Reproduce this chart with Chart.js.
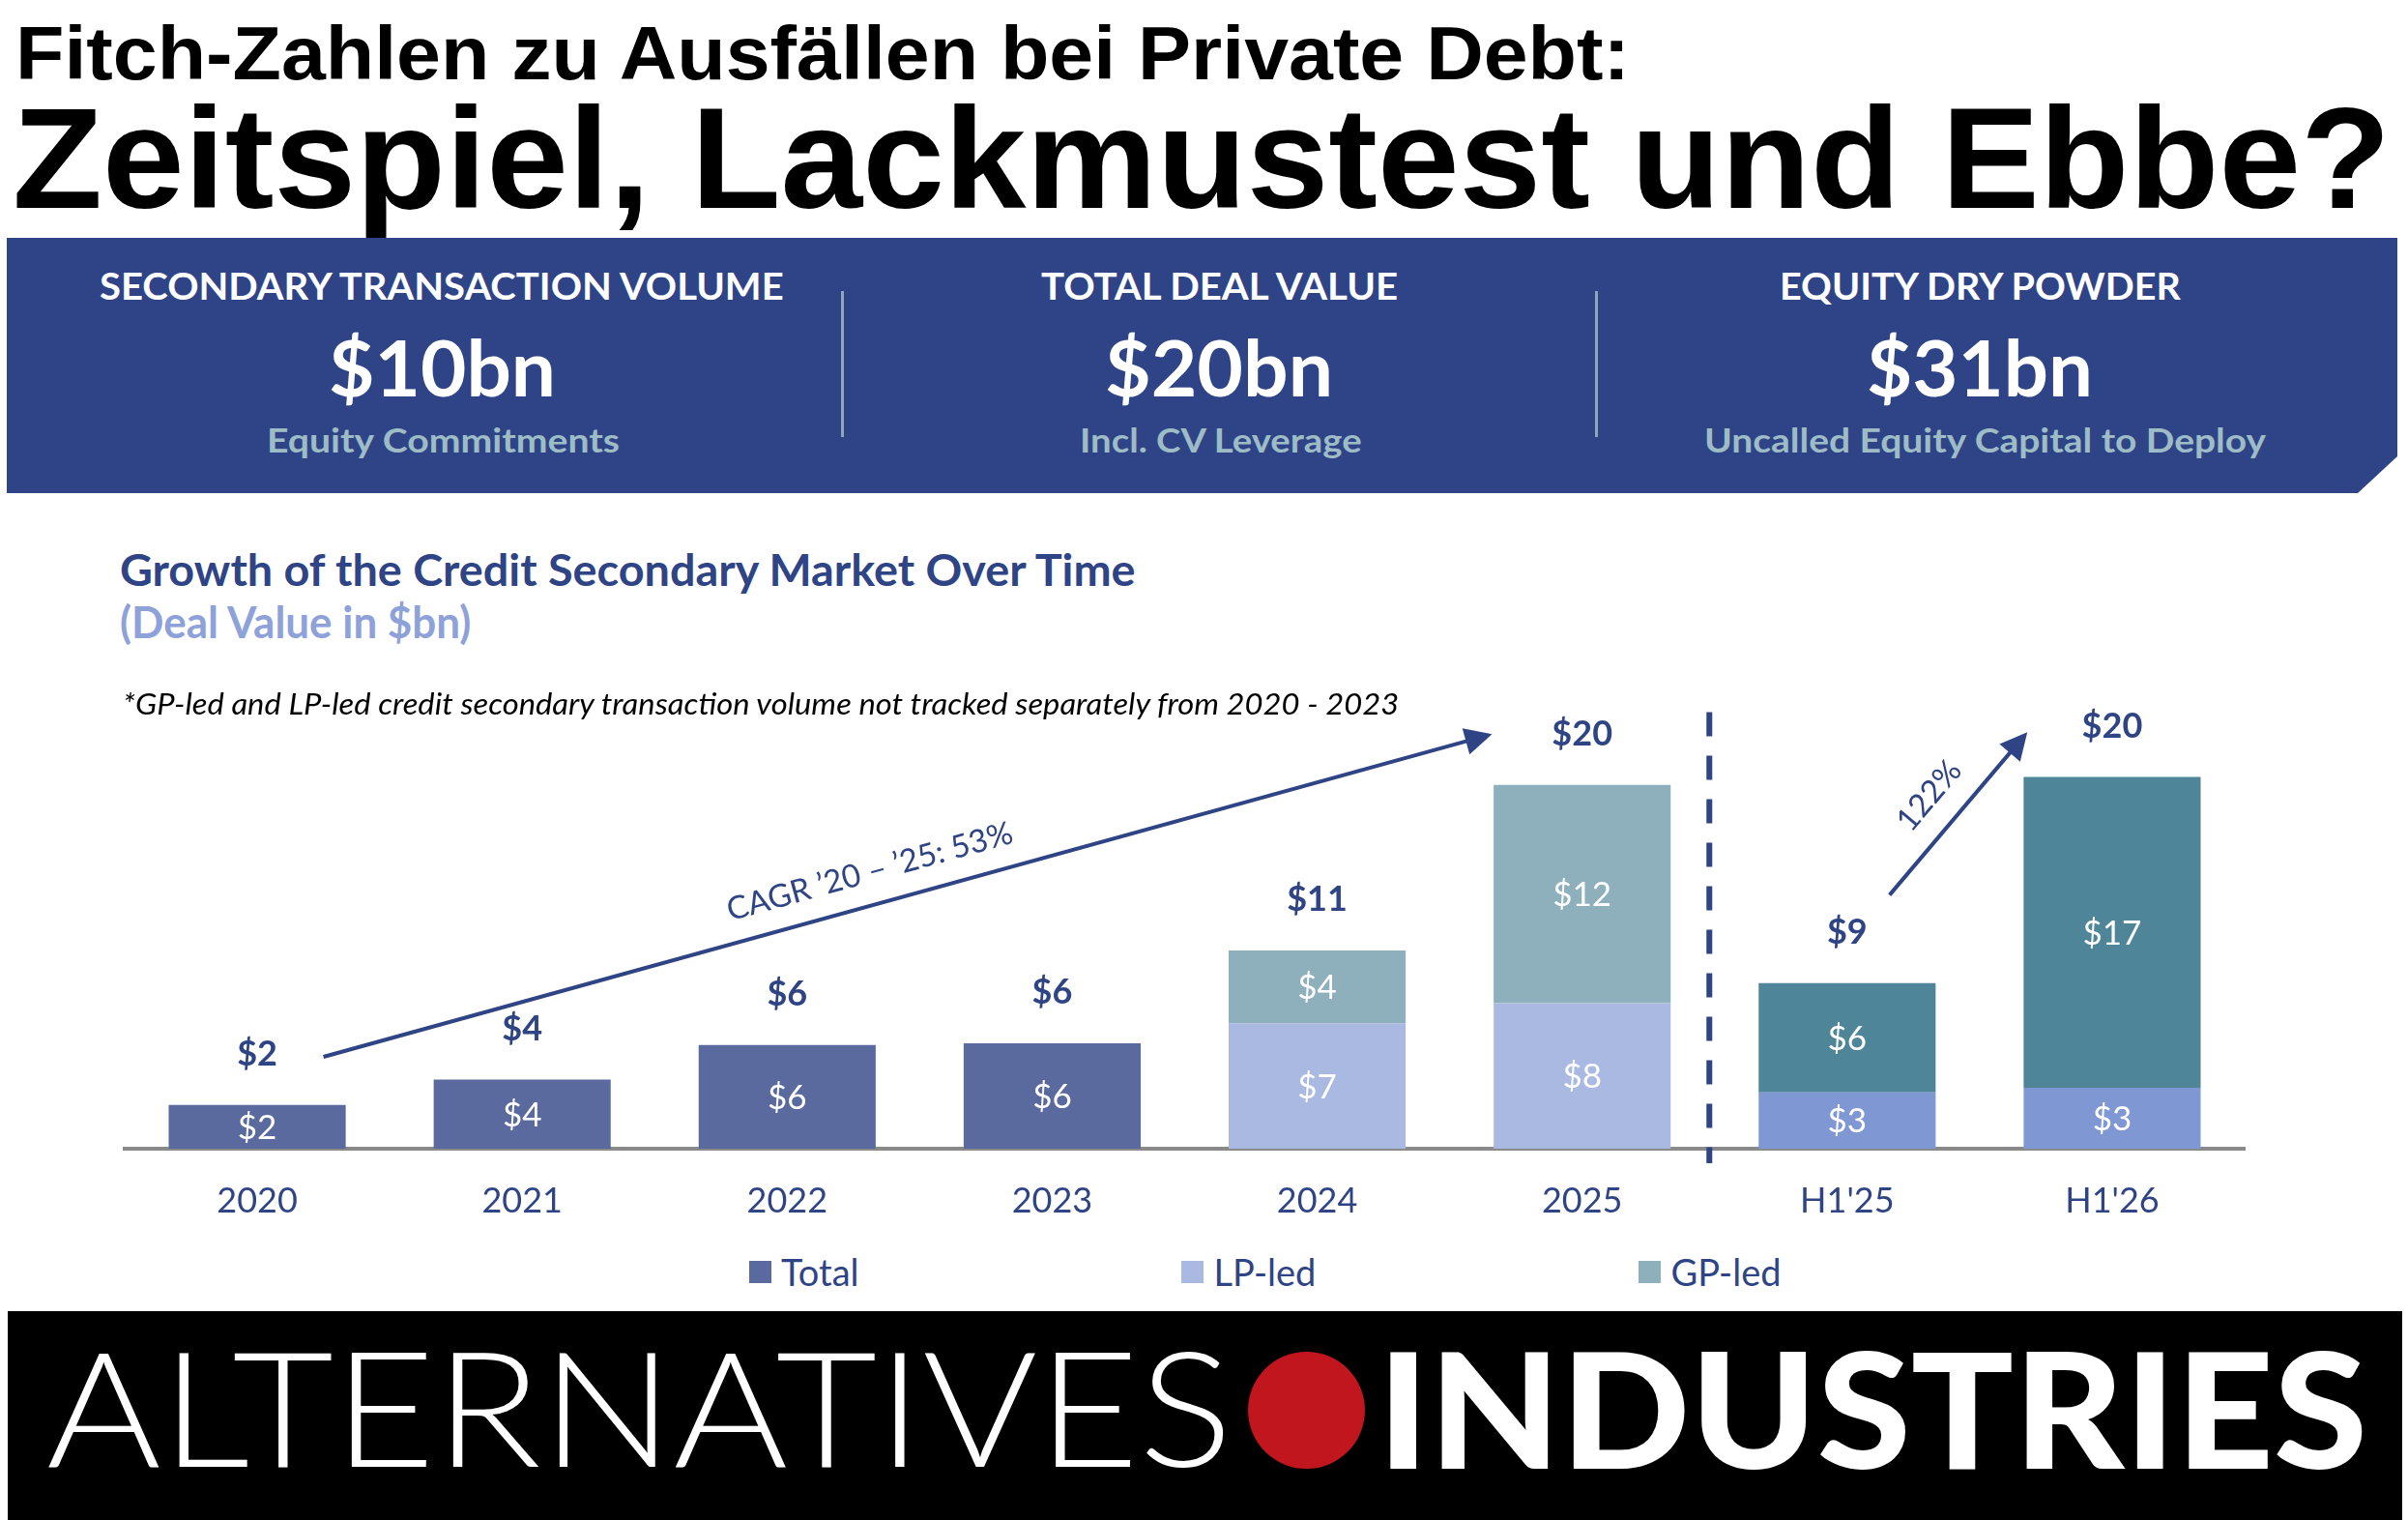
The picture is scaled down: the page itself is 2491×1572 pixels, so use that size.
<!DOCTYPE html>
<html>
<head>
<meta charset="utf-8">
<script src="https://cdn.jsdelivr.net/npm/chart.js@4.4.1/dist/chart.umd.min.js"></script>
<style>
    html, body {
        margin: 0;
        width: 2491px;
        height: 1572px;
        overflow: hidden;
        background: #ffffff;
    }
    .txt {
        position: absolute;
        white-space: nowrap;
        line-height: 1;
        transform-origin: 0 0;
    }
    .banner {
        position: absolute;
        left: 7px;
        top: 246px;
        width: 2473px;
        height: 264px;
        background: #2f4487;
        clip-path: polygon(0 0, 100% 0, 100% 226px, 2432px 100%, 0 100%);
    }
    .sep {
        position: absolute;
        top: 301px;
        width: 3px;
        height: 151px;
        background: #8ea6bd;
    }
    .footer {
        position: absolute;
        left: 8px;
        top: 1356px;
        width: 2477px;
        height: 216px;
        background: #000000;
    }
    .dot {
        position: absolute;
        left: 1291px;
        top: 1398px;
        width: 121px;
        height: 121px;
        border-radius: 50%;
        background: #c1161e;
    }
    #chartCanvas {
        position: absolute;
        left: 0;
        top: 699px;
    }
    .legend {
        position: absolute;
        left: 775px;
        top: 1296px;
        height: 38px;
        display: flex;
        align-items: center;
        gap: 334px;
        font: 400 38px Lato, sans-serif;
        color: #2f4485;
        line-height: 1;
    }
    .legend-item {
        display: flex;
        align-items: center;
    }
    .legend-box {
        width: 23px;
        height: 23px;
        margin-right: 10px;
    }
</style>
</head>
<body>
<div class="banner"></div>
<div class="sep" style="left:870px"></div>
<div class="sep" style="left:1650px"></div>
<div class="footer"></div>
<div class="dot"></div>
<canvas id="chartCanvas" width="2491" height="589"></canvas>
<div class="legend" id="legend"></div>

<script>
// chart data
const categories = ["2020", "2021", "2022", "2023", "2024", "2025", "H1'25", "H1'26"];
const totalValues = [2.4, 3.8, 5.7, 5.8, null, null, null, null];
const lpLedValues = [null, null, null, null, 6.9, 8.0, 3.1, 3.35];
const gpLedValues = [null, null, null, null, 4.0, 12.0, 6.0, 17.1];
const seriesNames = ["Total", "LP-led", "GP-led"];

// annotations, in [category index, value] units
const cagrArrow = [[0.25, 5.05], [4.66, 22.8]];
const halfYearArrow = [[6.16, 13.95], [6.68, 22.9]];
const splitAt = 5.48;
const cagrText = "CAGR \u201920 \u2013 \u201925: 53%";
const halfYearText = "122%";

const NAVY = "#2f4485";
const TOTAL_COLOR = "#5b6a9e";
const LP_COLOR = "#a9b9e1";
const GP_COLOR = "#8eafbc";
const H1_LP_COLOR = "#7f98d4";
const H1_GP_COLOR = "#4f8598";

const isHalfYear = categories.map(c => c.startsWith("H1"));

// ---------- plain html texts ----------
const measureCtx = document.createElement("canvas").getContext("2d");

function addText(spec) {
    const font = `${spec.style || "normal"} ${spec.weight || 400} ${spec.size}px ${spec.family}`;
    measureCtx.font = font;
    const m = measureCtx.measureText(spec.text);
    const h = measureCtx.measureText("H");
    // line-height is 1, so the baseline sits half the leftover below the middle
    const baseline = spec.size / 2 + (m.fontBoundingBoxAscent - m.fontBoundingBoxDescent) / 2;
    const capMid = baseline - h.actualBoundingBoxAscent / 2;
    const left = spec.cx !== undefined ? spec.cx - spec.w / 2 : spec.x;

    const el = document.createElement("div");
    el.className = "txt";
    el.textContent = spec.text;
    el.style.font = font;
    el.style.lineHeight = "1";
    el.style.color = spec.color;
    el.style.left = left + "px";
    el.style.top = (spec.cy - capMid) + "px";
    el.style.transform = `scaleX(${spec.w / m.width})`;
    document.body.appendChild(el);
}

const SANS = "'Liberation Sans', Arial, sans-serif";
const LATO = "Lato, 'Open Sans', sans-serif";

addText({ text: "Fitch-Zahlen zu Ausfällen bei Private Debt:", family: SANS, weight: 700, size: 77, color: "#000", x: 16, cy: 55.5, w: 1673 });
addText({ text: "Zeitspiel, Lackmustest und Ebbe?", family: SANS, weight: 700, size: 148, color: "#000", x: 13, cy: 164, w: 2460 });

const kpis = [
    { head: "SECONDARY TRANSACTION VOLUME", value: "$10bn", sub: "Equity Commitments", cx: 459, hw: 712, vw: 235, sw: 366 },
    { head: "TOTAL DEAL VALUE", value: "$20bn", sub: "Incl. CV Leverage", cx: 1263, hw: 373, vw: 236, sw: 293 },
    { head: "EQUITY DRY POWDER", value: "$31bn", sub: "Uncalled Equity Capital to Deploy", cx: 2050, hw: 418, vw: 234, sw: 582 }
];
kpis.forEach(k => {
    addText({ text: k.head, family: LATO, weight: 700, size: 39, color: "#ffffff", cx: k.cx, cy: 296, w: k.hw });
    addText({ text: k.value, family: LATO, weight: 700, size: 81, color: "#ffffff", cx: k.cx - 2, cy: 381, w: k.vw });
    addText({ text: k.sub, family: LATO, weight: 700, size: 35, color: "#9dbcc6", cx: k.cx + (k.sw > 500 ? 4 : 0), cy: 456, w: k.sw });
});

addText({ text: "Growth of the Credit Secondary Market Over Time", family: LATO, weight: 700, size: 46, color: NAVY, x: 124, cy: 589.5, w: 1055 });
addText({ text: "(Deal Value in $bn)", family: LATO, weight: 700, size: 45, color: "#8ea1d9", x: 124, cy: 644, w: 365 });
addText({ text: "*GP-led and LP-led credit secondary transaction volume not tracked separately from 2020 - 2023", family: LATO, style: "italic", weight: 400, size: 30, color: "#000", x: 127, cy: 728, w: 1323 });

addText({ text: "ALTERNATIVES", family: LATO, weight: 300, size: 165, color: "#ffffff", x: 48, cy: 1459, w: 1227 });
addText({ text: "INDUSTRIES", family: LATO, weight: 900, size: 165, color: "#ffffff", x: 1425, cy: 1459, w: 1024 });

// ---------- chart ----------
function money(v) {
    return "$" + Math.round(v);
}

function drawArrow(ctx, x, y, pts, label, offset) {
    const x0 = x.getPixelForValue(pts[0][0]), y0 = y.getPixelForValue(pts[0][1]);
    const x1 = x.getPixelForValue(pts[1][0]), y1 = y.getPixelForValue(pts[1][1]);
    const ang = Math.atan2(y1 - y0, x1 - x0);
    const len = Math.hypot(x1 - x0, y1 - y0);
    const head = 28;

    ctx.save();
    ctx.translate(x0, y0);
    ctx.rotate(ang);
    ctx.strokeStyle = NAVY;
    ctx.fillStyle = NAVY;
    ctx.lineWidth = 4;
    ctx.beginPath();
    ctx.moveTo(0, 0);
    ctx.lineTo(len - head + 2, 0);
    ctx.stroke();
    ctx.beginPath();
    ctx.moveTo(len, 0);
    ctx.lineTo(len - head, -14);
    ctx.lineTo(len - head, 14);
    ctx.closePath();
    ctx.fill();

    ctx.font = "400 33px Lato, sans-serif";
    ctx.textAlign = "center";
    ctx.textBaseline = "middle";
    ctx.fillText(label, len * 0.475, -offset);
    ctx.restore();
}

const labelsPlugin = {
    id: "barLabels",
    afterDatasetsDraw(chart) {
        const { ctx, scales: { x, y } } = chart;
        ctx.save();

        // segment values
        ctx.font = "400 35px Lato, sans-serif";
        ctx.fillStyle = "#ffffff";
        ctx.textAlign = "center";
        ctx.textBaseline = "alphabetic";
        chart.data.datasets.forEach((ds, i) => {
            chart.getDatasetMeta(i).data.forEach((bar, j) => {
                const v = ds.data[j];
                if (v === null) return;
                const mid = (bar.y + bar.base) / 2;
                ctx.fillText(money(v), bar.x, mid + 35 * 0.358);
            });
        });

        // totals above bars
        ctx.font = "700 36px Lato, sans-serif";
        ctx.fillStyle = NAVY;
        categories.forEach((c, j) => {
            const sum = chart.data.datasets.reduce((s, ds) => s + (ds.data[j] || 0), 0);
            const top = y.getPixelForValue(sum);
            ctx.fillText(money(sum), x.getPixelForValue(j), top - 53.5 + 36 * 0.358);
        });

        // split between years and half years
        const sx = x.getPixelForValue(splitAt);
        ctx.strokeStyle = NAVY;
        ctx.lineWidth = 6;
        ctx.setLineDash([25, 20]);
        ctx.beginPath();
        ctx.moveTo(sx, y.getPixelForValue(24));
        ctx.lineTo(sx, y.getPixelForValue(-0.8));
        ctx.stroke();
        ctx.setLineDash([]);
        ctx.restore();

        drawArrow(ctx, x, y, cagrArrow, cagrText, 34);
        drawArrow(ctx, x, y, halfYearArrow, halfYearText, 35);
    }
};

Chart.defaults.font.family = "Lato, 'Open Sans', sans-serif";

const chart = new Chart(document.getElementById("chartCanvas"), {
    type: "bar",
    data: {
        labels: categories,
        datasets: [
            {
                label: seriesNames[0],
                data: totalValues,
                backgroundColor: TOTAL_COLOR,
                legendColor: TOTAL_COLOR
            },
            {
                label: seriesNames[1],
                data: lpLedValues,
                backgroundColor: isHalfYear.map(h => h ? H1_LP_COLOR : LP_COLOR),
                legendColor: LP_COLOR
            },
            {
                label: seriesNames[2],
                data: gpLedValues,
                backgroundColor: isHalfYear.map(h => h ? H1_GP_COLOR : GP_COLOR),
                legendColor: GP_COLOR
            }
        ]
    },
    options: {
        responsive: false,
        animation: false,
        layout: { padding: { left: 129, right: 169, top: 0, bottom: 0 } },
        datasets: {
            bar: {
                categoryPercentage: 1,
                barPercentage: 0.668,
                borderWidth: 0,
                borderSkipped: false
            }
        },
        scales: {
            x: {
                stacked: true,
                grid: { display: false, drawTicks: false },
                border: { display: true, color: "#8a8a8a", width: 4 },
                ticks: {
                    color: NAVY,
                    font: { size: 36 },
                    padding: 33
                },
                afterFit: s => { s.height = 100; }
            },
            y: {
                display: false,
                stacked: true,
                min: 0,
                max: 26
            }
        },
        plugins: {
            legend: { display: false },
            tooltip: { enabled: false }
        }
    },
    plugins: [labelsPlugin]
});

// legend
const legendEl = document.getElementById("legend");
chart.data.datasets.forEach(ds => {
    const item = document.createElement("div");
    item.className = "legend-item";
    item.innerHTML = `<span class="legend-box" style="background:${ds.legendColor}"></span><span>${ds.label}</span>`;
    legendEl.appendChild(item);
});
</script>
</body>
</html>
